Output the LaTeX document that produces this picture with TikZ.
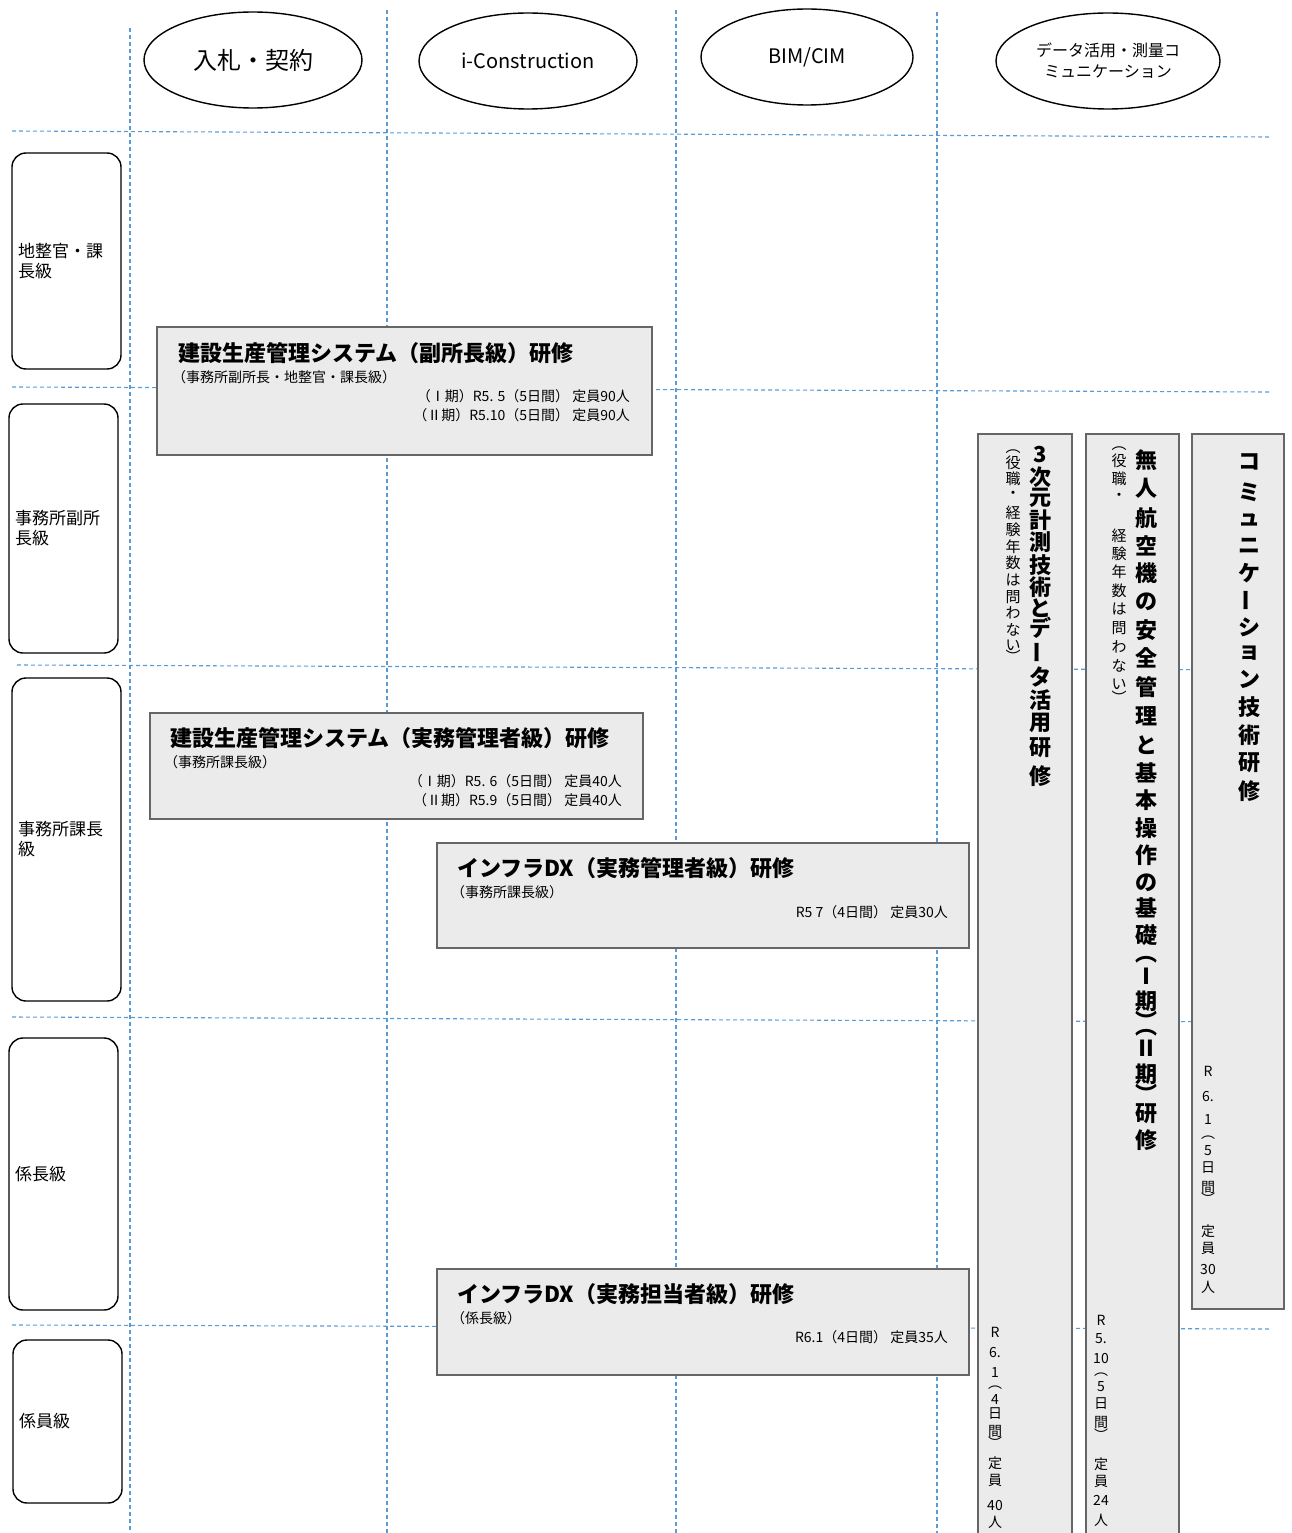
\documentclass[tikz,border=0pt]{standalone}
\usepackage{fontspec}
\setmainfont{Noto Sans CJK JP}
\usetikzlibrary{shapes.geometric}
\definecolor{gridblue}{RGB}{91,155,213}
\definecolor{boxgray}{RGB}{235,235,235}
\newcommand{\vbar}{\rotatebox{90}{ー}}
\newcommand{\vlp}{︵}
\newcommand{\vrp}{︶}

\begin{document}
\begin{tikzpicture}[x=1pt,y=-1pt,
  grid/.style={draw=gridblue, dash pattern=on 4pt off 3pt, line width=1.1pt},
  topic/.style={draw, ellipse, line width=1.4pt, minimum width=218pt, minimum height=96pt, align=center, inner sep=0pt},
  level/.style={draw, rounded corners=14pt, line width=1.4pt, minimum width=109pt, text width=97pt, align=left, inner sep=0pt, font=\fontsize{17}{20}\selectfont},
  course/.style={draw=black!60, fill=boxgray, line width=1.6pt},
  ctitle/.style={anchor=west, inner sep=0pt, font=\fontsize{22}{24}\selectfont\bfseries},
  csub/.style={anchor=west, inner sep=0pt, font=\fontsize{14}{16}\selectfont},
  cdate/.style={anchor=east, inner sep=0pt, font=\fontsize{14}{16}\selectfont},
  vtitle/.style={inner sep=0pt, font=\fontsize{22}{22}\selectfont\bfseries},
  vsub/.style={inner sep=0pt, font=\fontsize{15}{15}\selectfont},
  vdate/.style={inner sep=0pt, font=\fontsize{14}{14}\selectfont}]
  \useasboundingbox (0,0) rectangle (1291,1533);

  % dashed grid
  \draw[grid] (130,28) -- (130,1533);
  \draw[grid] (387,10) -- (387,1533);
  \draw[grid] (676,10) -- (676,1533);
  \draw[grid] (937,12) -- (937,1533);
  \draw[grid] (12,131) -- (1270,137);
  \draw[grid] (12,387) -- (1270,392);
  \draw[grid] (17,665) -- (1270,670);
  \draw[grid] (12,1017) -- (1270,1022);
  \draw[grid] (12,1325) -- (1270,1329);

  % fields
  \node[topic, font=\fontsize{24}{26}\selectfont] (f-nyusatsu) at (253,60) {入札・契約};
  \node[topic, font=\fontsize{20}{22}\selectfont] (f-icon) at (528,61) {i-Construction};
  \node[topic, font=\fontsize{20}{22}\selectfont, minimum width=212pt] (f-bim) at (807,57) {BIM/CIM};
  \node[topic, font=\fontsize{16}{21}\selectfont, minimum width=224pt] (f-data) at (1108,61) {データ活用・測量コ\\ミュニケーション};

  % levels
  \node[level, minimum height=216pt] (lv-chiseikan) at (66.5,261) {地整官・課\\長級};
  \node[level, minimum height=249pt] (lv-fukusho) at (63.5,528.5) {事務所副所\\長級};
  \node[level, minimum height=323pt] (lv-kacho) at (66.5,839.5) {事務所課長\\級};
  \node[level, minimum height=272pt] (lv-kakaricho) at (63.5,1174) {係長級};
  \node[level, minimum height=163pt] (lv-kakariin) at (67.5,1421.5) {係員級};

  % horizontal courses
  \draw[course] (157,327) rectangle (652,455);
  \node[ctitle] (c1-title) at (178,353) {建設生産管理システム（副所長級）研修};
  \node[csub] (c1-sub) at (172,377) {（事務所副所長・地整官・課長級）};
  \node[cdate] (c1-d1) at (630,396) {（Ⅰ期）R5. 5（5日間） 定員90人};
  \node[cdate] (c1-d2) at (630,415) {（Ⅱ期）R5.10（5日間） 定員90人};

  \draw[course] (150,713) rectangle (643,819);
  \node[ctitle] (c2-title) at (170,738) {建設生産管理システム（実務管理者級）研修};
  \node[csub] (c2-sub) at (164,762) {（事務所課長級）};
  \node[cdate] (c2-d1) at (622,781) {（Ⅰ期）R5. 6（5日間） 定員40人};
  \node[cdate] (c2-d2) at (622,800) {（Ⅱ期）R5.9（5日間） 定員40人};

  \draw[course] (437,843) rectangle (969,948);
  \node[ctitle] (c3-title) at (457,868) {インフラDX（実務管理者級）研修};
  \node[csub] (c3-sub) at (451,892) {（事務所課長級）};
  \node[cdate] (c3-d1) at (948,912) {R5 7（4日間） 定員30人};

  \draw[course] (437,1269) rectangle (969,1375);
  \node[ctitle] (c4-title) at (457,1294) {インフラDX（実務担当者級）研修};
  \node[csub] (c4-sub) at (451,1318) {（係長級）};
  \node[cdate] (c4-d1) at (948,1337) {R6.1（4日間） 定員35人};

  % vertical courses
  \draw[course] (978,434) rectangle (1072,1545);
  \foreach \yy/\ch [count=\k] in {455/3,477/次,498/元,520/計,542/測,565/技,587/術,608/と,628/デ,652/\vbar,677/タ,700/活,723/用,748/研,776/修}
    \node[vtitle] (v1-t\k) at (1040,\yy) {\ch};
  \foreach \yy/\ch [count=\k] in {452/\vlp,463/役,479/職,495/・,513/経,530/験,547/年,563/数,580/は,597/問,613/わ,630/な,645/い,656/\vrp}
    \node[vsub] (v1-s\k) at (1013,\yy) {\ch};
  \foreach \yy/\ch [count=\k] in {1332/R,1352/6.,1372/1,1388/\vlp,1399/4,1414/日,1431/間,1443/\vrp,1463/定,1480/員,1505/40,1522/人}
    \node[vdate] (v1-d\k) at (995,\yy) {\ch};

  \draw[course] (1086,434) rectangle (1179,1545);
  \foreach \yy/\ch [count=\k] in {460/無,488/人,518/航,546/空,573/機,602/の,630/安,658/全,687/管,716/理,745/と,773/基,800/本,828/操,855/作,883/の,908/基,935/礎,960/\vlp,976/Ⅰ,1001/期,1020/\vrp,1033/\vlp,1048/Ⅱ,1074/期,1093/\vrp,1114/研,1140/修}
    \node[vtitle] (v2-t\k) at (1146,\yy) {\ch};
  \foreach \yy/\ch [count=\k] in {449/\vlp,461/役,479/職,497/・,536/経,554/験,572/年,591/数,609/は,628/問,647/わ,666/な,684/い,697/\vrp}
    \node[vsub] (v2-s\k) at (1119,\yy) {\ch};
  \foreach \yy/\ch [count=\k] in {1320/R,1339/5.,1358/10,1375/\vlp,1387/5,1404/日,1422/間,1435/\vrp,1464/定,1481/員,1500/24,1520/人}
    \node[vdate] (v2-d\k) at (1101,\yy) {\ch};

  \draw[course] (1192,434) rectangle (1284,1309);
  \foreach \yy/\ch [count=\k] in {462/コ,492/ミ,520/ュ,546/ニ,573/ケ,600/\vbar,627/シ,653/ョ,679/ン,707/技,735/術,763/研,791/修}
    \node[vtitle] (v3-t\k) at (1249,\yy) {\ch};
  \foreach \yy/\ch [count=\k] in {1071/R,1096/6.,1119/1,1138/\vlp,1151/5,1168/日,1187/間,1199/\vrp,1231/定,1248/員,1269/30,1287/人}
    \node[vdate] (v3-d\k) at (1208,\yy) {\ch};
\end{tikzpicture}
\end{document}
